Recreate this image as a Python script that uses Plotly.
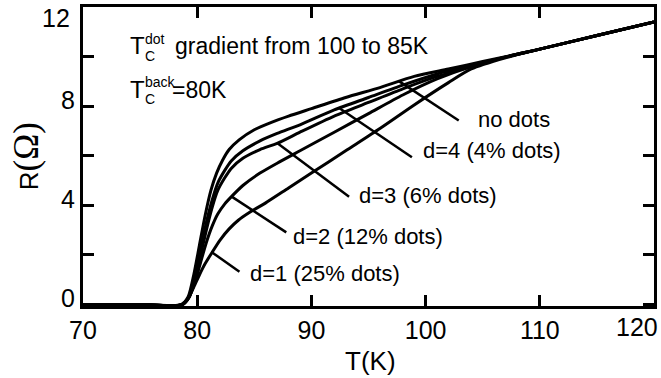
import plotly.graph_objects as go

# ---- data ----
T_nodots = [70, 75, 78.6, 79.2, 79.7, 80.2, 80.7, 81.2, 81.7, 82.2, 82.8, 83.7, 85, 86.5, 88, 90, 93, 96, 99, 102, 105, 110, 115, 120]
R_nodots = [0, 0, 0, 0.3, 1.2, 2.4, 3.6, 4.6, 5.3, 5.8, 6.25, 6.65, 7.05, 7.35, 7.6, 7.9, 8.35, 8.75, 9.2, 9.5, 9.8, 10.3, 10.85, 11.4]

T_d4 = [70, 75, 78.7, 79.3, 79.8, 80.3, 80.8, 81.3, 81.8, 82.4, 83, 84, 85.5, 87, 89, 92, 95, 98, 101, 104, 107, 110, 115, 120]
R_d4 = [0, 0, 0, 0.3, 1.1, 2.2, 3.3, 4.2, 4.9, 5.4, 5.8, 6.2, 6.6, 6.9, 7.25, 7.85, 8.35, 8.85, 9.3, 9.65, 9.98, 10.3, 10.85, 11.4]

T_d3 = [70, 75, 78.7, 79.3, 79.8, 80.3, 80.8, 81.3, 81.8, 82.4, 83, 84, 85.5, 87, 89, 92, 95, 98, 101, 104, 107, 110, 115, 120]
R_d3 = [0, 0, 0, 0.3, 1.0, 2.0, 3.0, 3.9, 4.6, 5.1, 5.5, 5.9, 6.25, 6.5, 6.95, 7.6, 8.15, 8.7, 9.2, 9.6, 9.98, 10.3, 10.85, 11.4]

T_d2 = [70, 75, 78.7, 79.3, 79.8, 80.3, 80.8, 81.3, 81.8, 82.4, 83, 84, 85.5, 87, 89, 92, 95, 98, 101, 104, 107, 110, 115, 120]
R_d2 = [0, 0, 0, 0.3, 0.9, 1.7, 2.5, 3.15, 3.65, 4.05, 4.35, 4.8, 5.3, 5.7, 6.2, 6.95, 7.7, 8.45, 9.1, 9.6, 9.98, 10.3, 10.85, 11.4]

T_d1 = [70, 75, 78.7, 79.2, 79.7, 80.2, 80.7, 81.3, 82, 82.8, 83.6, 84.6, 86, 88, 90, 93, 96, 99, 102, 104, 107, 110, 115, 120]
R_d1 = [0, 0, 0, 0.25, 0.7, 1.2, 1.65, 2.1, 2.6, 3.05, 3.4, 3.72, 4.1, 4.7, 5.3, 6.2, 7.1, 8.05, 8.95, 9.5, 9.95, 10.3, 10.85, 11.4]

series_names = ["no dots", "d=4 (4% dots)", "d=3 (6% dots)", "d=2 (12% dots)", "d=1 (25% dots)"]
series_T = [T_nodots, T_d4, T_d3, T_d2, T_d1]
series_R = [R_nodots, R_d4, R_d3, R_d2, R_d1]

x_ticks = [70, 80, 90, 100, 110, 120]
y_ticks = [0, 2, 4, 6, 8, 10, 12]
y_labels = ["0", "", "4", "", "8", "", "12"]

# label layout: (leader start T,R), (leader end T,R), text anchor (T,R)
label_layout = [
    ((97.66, 9.01), (102.9, 7.42), (104.45, 7.46)),
    ((92.43, 7.93), (98.8, 5.94), (99.57, 6.22)),
    ((87.03, 6.50), (93.3, 4.35), (94.0, 4.39)),
    ((83.02, 4.35), (87.8, 2.91), (88.25, 2.75)),
    ((81.28, 2.11), (83.7, 1.32), (84.42, 1.24)),
]

FONT = "Liberation Sans, Arial, Helvetica, sans-serif"
W, H = 661, 378
L, R, TOP, B = 83, 4, 5, 72
PW, PH = W - L - R, H - TOP - B


def px(xp):
    return (xp - L) / PW


def py(yp):
    return (H - B - yp) / PH


fig = go.Figure()
for name, t, r in zip(series_names, series_T, series_R):
    fig.add_trace(go.Scatter(x=t, y=r, mode="lines", name=name,
                             line=dict(color="black", width=3, shape="spline", smoothing=0.7),
                             showlegend=False, hoverinfo="skip"))

shapes = []
annotations = []
for name, (a, b, txt) in zip(series_names, label_layout):
    shapes.append(dict(type="line", xref="x", yref="y", x0=a[0], y0=a[1], x1=b[0], y1=b[1],
                       line=dict(color="black", width=2.5)))
    annotations.append(dict(x=txt[0], y=txt[1], xref="x", yref="y", text=name, showarrow=False,
                            xanchor="left", yanchor="middle", font=dict(size=22, family=FONT, color="black")))


def pa(text, xpix, ypix, size):
    annotations.append(dict(x=px(xpix), y=py(ypix), xref="paper", yref="paper", text=text,
                            showarrow=False, xanchor="left", yanchor="middle",
                            font=dict(size=size, family=FONT, color="black")))


pa("T", 128, 44, 24)
pa("dot", 143, 37, 14)
pa("C", 143, 54, 14)
pa("gradient from 100 to 85K", 173, 44, 23)
pa("T", 128, 88, 24)
pa("back", 143, 81, 14)
pa("C", 143, 98, 14)
pa("=80K", 170, 89, 23)

# tick labels that the reference nudges inward
annotations.append(dict(x=px(640), y=py(327), xref="paper", yref="paper", text=str(x_ticks[-1]),
                        showarrow=False, xanchor="center", yanchor="middle",
                        font=dict(size=25, family=FONT, color="black")))
annotations.append(dict(x=px(72), y=py(16), xref="paper", yref="paper", text=y_labels[-1],
                        showarrow=False, xanchor="right", yanchor="middle",
                        font=dict(size=25, family=FONT, color="black")))

# axis titles
annotations.append(dict(x=px(372), y=py(361), xref="paper", yref="paper", text="T(K)",
                        showarrow=False, xanchor="center", yanchor="middle",
                        font=dict(size=26, family=FONT, color="black")))
annotations.append(dict(x=px(26), y=py(155), xref="paper", yref="paper",
                        text="R<span style='font-family:Liberation Serif;font-size:35px'>(Ω)</span>",
                        showarrow=False, xanchor="center", yanchor="middle", textangle=-90,
                        font=dict(size=26, family=FONT, color="black")))

axis_common = dict(showline=True, linecolor="black", linewidth=3, mirror="ticks",
                   ticks="inside", ticklen=11, tickwidth=2.5, tickcolor="black",
                   showgrid=False, zeroline=False,
                   tickfont=dict(size=25, family=FONT, color="black"))

fig.update_layout(
    width=W, height=H,
    margin=dict(l=L, r=R, t=TOP, b=B, pad=0),
    paper_bgcolor="white", plot_bgcolor="white",
    xaxis=dict(range=[70, 120], tickvals=x_ticks, ticktext=[str(v) for v in x_ticks[:-1]] + [""],
               **axis_common),
    yaxis=dict(range=[-0.06, 12], tickvals=y_ticks, ticktext=y_labels[:-1] + [""], ticklabelshift=-6,
               **axis_common),
    shapes=shapes,
    annotations=annotations,
)

fig.write_html("out.html", config={"displayModeBar": False},
               post_script="document.body.style.margin='0';document.body.style.overflow='hidden';")
